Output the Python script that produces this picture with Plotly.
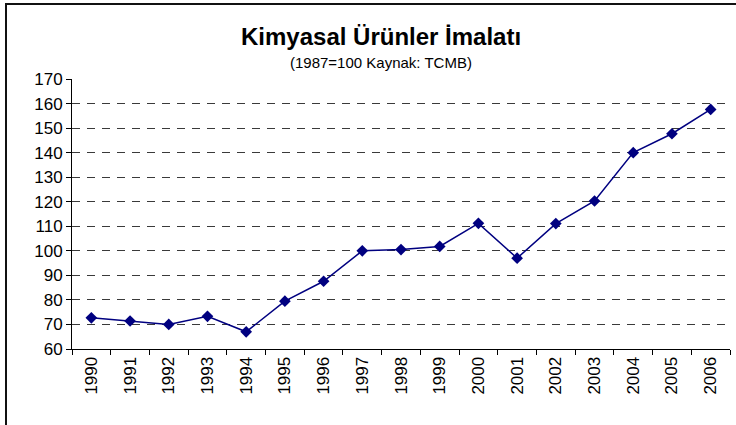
import plotly.graph_objects as go

years = ["1990", "1991", "1992", "1993", "1994", "1995", "1996", "1997", "1998",
         "1999", "2000", "2001", "2002", "2003", "2004", "2005", "2006"]
values = [72.7, 71.4, 70.0, 73.3, 67.0, 79.5, 87.6, 100.0, 100.5,
          101.8, 111.2, 97.0, 111.1, 120.3, 140.0, 147.7, 157.6]
y_ticks = [60, 70, 80, 90, 100, 110, 120, 130, 140, 150, 160, 170]

title_text = "<b>Kimyasal Ürünler İmalatı</b>"
subtitle_text = "(1987=100 Kaynak: TCMB)"

FONT = "Liberation Sans, Arial, sans-serif"

# plot area in pixels: x 72..730, y 79..349
def px_x(p):
    return (p - 72) / 658

def px_y(p):
    return (349 - p) / 270

fig = go.Figure()
fig.add_trace(go.Scatter(
    x=years, y=values, mode="lines+markers",
    line=dict(color="#000080", width=1.5),
    marker=dict(symbol="diamond", size=9, color="#000080"),
    showlegend=False,
))

fig.update_layout(
    width=736, height=425,
    margin=dict(l=72, r=6, t=79, b=76),
    paper_bgcolor="white", plot_bgcolor="white",
    font=dict(family=FONT, color="black", size=17),
    xaxis=dict(
        type="category", range=[-0.5, 16.5],
        tickson="boundaries", ticks="outside", ticklen=5, tickcolor="black",
        showline=True, linecolor="black", linewidth=1,
        showgrid=False, tickangle=-90, tickfont=dict(size=17),
        fixedrange=True,
    ),
    yaxis=dict(
        range=[60, 170], tickvals=y_ticks,
        ticks="outside", ticklen=5, tickcolor="black",
        showline=True, linecolor="black", linewidth=1,
        showgrid=True, gridcolor="#3a3a3a", gridwidth=1, griddash="8px,7px",
        zeroline=False, tickfont=dict(size=17), fixedrange=True,
    ),
    shapes=[
        dict(type="line", xref="paper", yref="paper", layer="above",
             x0=px_x(5), x1=px_x(740), y0=px_y(4), y1=px_y(4),
             line=dict(color="#111111", width=2)),
        dict(type="line", xref="paper", yref="paper", layer="above",
             x0=px_x(6), x1=px_x(6), y0=px_y(3), y1=px_y(430),
             line=dict(color="#111111", width=2)),
    ],
    annotations=[
        dict(text=title_text, xref="paper", yref="paper",
             x=px_x(381), y=px_y(36),
             xanchor="center", yanchor="middle", showarrow=False,
             font=dict(size=24, family=FONT, color="black")),
        dict(text=subtitle_text, xref="paper", yref="paper",
             x=px_x(381), y=px_y(62),
             xanchor="center", yanchor="middle", showarrow=False,
             font=dict(size=15, family=FONT, color="black")),
    ],
)

fig.write_html("out.html", config={"displayModeBar": False},
               post_script="document.body.style.margin='0';document.body.style.overflow='hidden';")
